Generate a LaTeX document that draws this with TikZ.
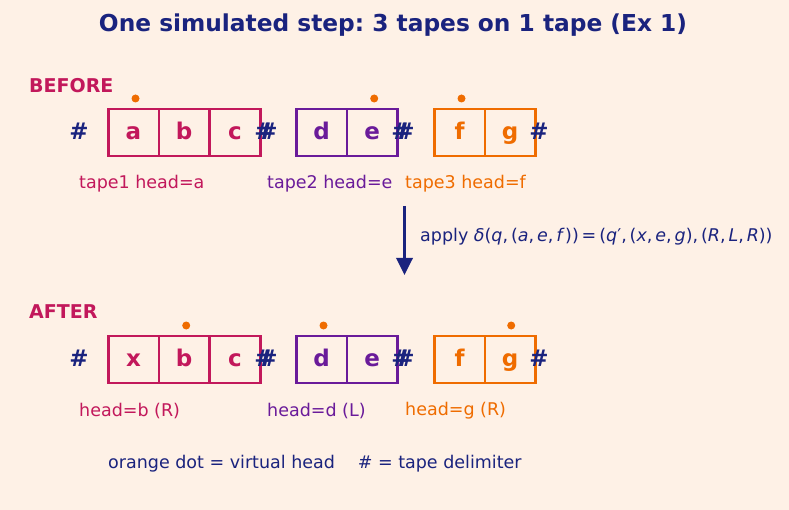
\documentclass[tikz,border=0pt]{standalone}
\usepackage{fontspec}
\setmainfont{DejaVu Sans}
\usetikzlibrary{arrows.meta}
\definecolor{bg}{HTML}{FEF1E6}
\definecolor{navy}{HTML}{1A237E}
\definecolor{crim}{HTML}{C2185B}
\definecolor{purp}{HTML}{6A1B9A}
\definecolor{oran}{HTML}{EF6C00}
\newcommand{\mi}[1]{\textit{#1}}
\frenchspacing
\begin{document}
\begin{tikzpicture}[x=1pt,y=-1pt,
  cell/.style={draw=#1, line width=2.7pt, minimum width=50.7pt, minimum height=47pt, inner sep=0pt, text height=16.5pt, text depth=2.5pt, text=#1, font=\fontsize{23}{23}\selectfont\bfseries},
  hash/.style={text=navy, inner sep=0pt, text height=16.5pt, text depth=2.5pt, font=\fontsize{23}{23}\selectfont\bfseries},
  hdot/.style={circle, fill=oran, inner sep=0pt, minimum size=8pt},
  lab/.style={anchor=west, inner sep=0pt, text=#1, font=\fontsize{17.5}{17.5}\selectfont},
  sec/.style={anchor=west, inner sep=0pt, text=crim, font=\fontsize{19}{19}\selectfont\bfseries},
  arr/.style={draw=navy, line width=3.4pt, -{Triangle[length=17pt,width=16pt]}}
]
\fill[bg] (0,0) rectangle (789,510);
\useasboundingbox (0,0) rectangle (789,510);

\node[text=navy, font=\fontsize{23.3}{23.3}\selectfont\bfseries] (title) at (393,25) {One simulated step: 3 tapes on 1 tape (Ex 1)};

% BEFORE
\node[sec] (before) at (29,85.5) {BEFORE};
\node[cell=crim] (b1a) at (133.5,132.5) {a};
\node[cell=crim] (b1b) at (184.2,132.5) {b};
\node[cell=crim] (b1c) at (234.9,132.5) {c};
\node[cell=purp] (b2d) at (321.5,132.5) {d};
\node[cell=purp] (b2e) at (372.2,132.5) {e};
\node[cell=oran] (b3f) at (459.5,132.5) {f};
\node[cell=oran] (b3g) at (510.2,132.5) {g};
\node[hash] (bh1) at (79,132.5) {\#};
\node[hash] (bh2) at (264,132.5) {\#};
\node[hash] (bh3) at (268,132.5) {\#};
\node[hash] (bh4) at (401,132.5) {\#};
\node[hash] (bh5) at (405,132.5) {\#};
\node[hash] (bh6) at (539,132.5) {\#};
\node[hdot] (bd1) at (135.5,98.5) {};
\node[hdot] (bd2) at (374.2,98.5) {};
\node[hdot] (bd3) at (461.5,98.5) {};
\node[lab=crim] (bl1) at (79,184) {tape1 head=a};
\node[lab=purp] (bl2) at (267,184) {tape2 head=e};
\node[lab=oran] (bl3) at (405,184) {tape3 head=f};

% arrow
\coordinate (as) at (404.5,206);
\coordinate (ae) at (404.5,275);
\draw[arr] (as) -- (ae);
\node[lab=navy] (eq) at (420,236.5) {apply \mi{δ}(\mi{q},\,(\mi{a},\,\mi{e},\,\mi{f}\kern0.5pt))\,=\,(\mi{q}′,\,(\mi{x},\,\mi{e},\,\mi{g}),\,(\mi{R},\,\mi{L},\,\mi{R}))};

% AFTER
\node[sec] (after) at (29,311.5) {AFTER};
\node[cell=crim] (a1a) at (133.5,359.5) {x};
\node[cell=crim] (a1b) at (184.2,359.5) {b};
\node[cell=crim] (a1c) at (234.9,359.5) {c};
\node[cell=purp] (a2d) at (321.5,359.5) {d};
\node[cell=purp] (a2e) at (372.2,359.5) {e};
\node[cell=oran] (a3f) at (459.5,359.5) {f};
\node[cell=oran] (a3g) at (510.2,359.5) {g};
\node[hash] (ah1) at (79,359.5) {\#};
\node[hash] (ah2) at (264,359.5) {\#};
\node[hash] (ah3) at (268,359.5) {\#};
\node[hash] (ah4) at (401,359.5) {\#};
\node[hash] (ah5) at (405,359.5) {\#};
\node[hash] (ah6) at (539,359.5) {\#};
\node[hdot] (ad1) at (186.2,325.5) {};
\node[hdot] (ad2) at (323.5,325.5) {};
\node[hdot] (ad3) at (511.2,325.5) {};
\node[lab=crim] (al1) at (79,411) {head=b (R)};
\node[lab=purp] (al2) at (267,411) {head=d (L)};
\node[lab=oran] (al3) at (405,411) {head=g (R)};

\node[lab=navy] (foot) at (108,464) {orange dot = virtual head\hspace{1.3em}\# = tape delimiter};
\end{tikzpicture}
\end{document}
